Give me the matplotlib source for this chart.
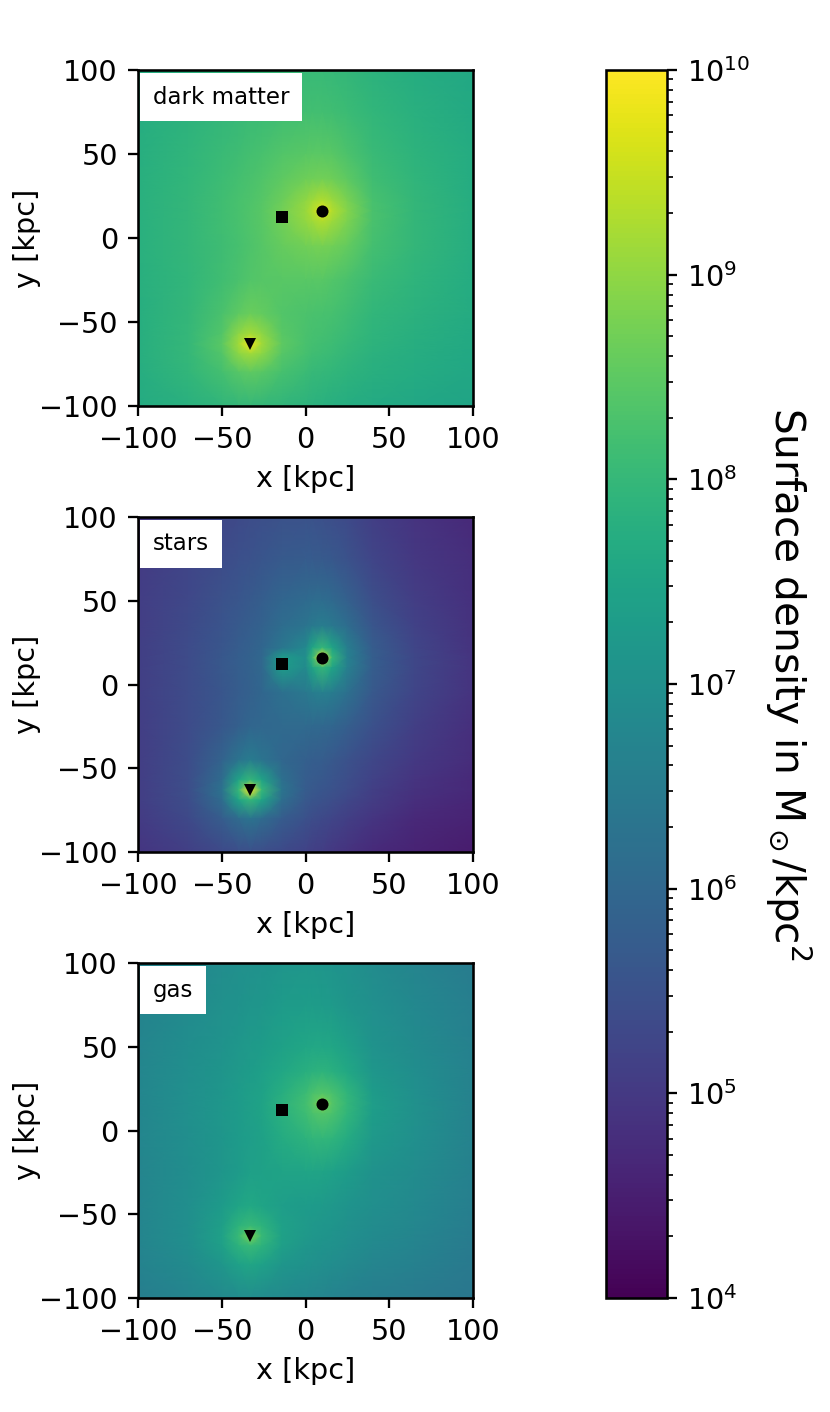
import numpy as np
import matplotlib
matplotlib.use('Agg')
import matplotlib.pyplot as plt
from matplotlib.colors import LogNorm
from matplotlib.cm import ScalarMappable

# grid nodes in kpc, denser around the halo centres
x_nodes = [-100, -70, -50, -40, -33, -26, -14, 0, 4, 10, 16, 25, 40, 65, 100]
y_nodes = [100, 75, 50, 35, 22, 16, 10, -5, -25, -45, -57, -63, -69, -80, -100]

# log10 surface density, top row is y = 100
dm_log = [
    [7.70, 7.80, 7.88, 7.93, 7.96, 7.98, 8.03, 8.05, 8.05, 8.04, 8.02, 7.97, 7.85, 7.72, 7.60],
    [7.73, 7.86, 7.97, 8.02, 8.06, 8.09, 8.16, 8.19, 8.19, 8.18, 8.15, 8.08, 7.94, 7.80, 7.63],
    [7.77, 7.93, 8.06, 8.14, 8.20, 8.25, 8.37, 8.45, 8.47, 8.47, 8.43, 8.31, 8.07, 7.88, 7.68],
    [7.79, 7.96, 8.11, 8.20, 8.27, 8.34, 8.50, 8.67, 8.70, 8.72, 8.68, 8.50, 8.16, 7.93, 7.70],
    [7.80, 7.98, 8.15, 8.25, 8.33, 8.41, 8.66, 9.00, 9.15, 9.32, 9.13, 8.80, 8.26, 7.97, 7.72],
    [7.80, 7.98, 8.15, 8.25, 8.34, 8.43, 8.72, 9.08, 9.32, 9.80, 9.32, 8.88, 8.28, 7.98, 7.73],
    [7.80, 7.98, 8.15, 8.25, 8.34, 8.43, 8.70, 9.02, 9.15, 9.32, 9.13, 8.82, 8.28, 7.98, 7.73],
    [7.80, 7.97, 8.14, 8.24, 8.32, 8.41, 8.58, 8.70, 8.72, 8.75, 8.70, 8.55, 8.20, 7.97, 7.73],
    [7.78, 7.96, 8.16, 8.28, 8.36, 8.42, 8.44, 8.44, 8.44, 8.43, 8.38, 8.28, 8.06, 7.90, 7.70],
    [7.77, 7.98, 8.28, 8.52, 8.62, 8.55, 8.38, 8.30, 8.28, 8.26, 8.22, 8.13, 7.96, 7.83, 7.66],
    [7.76, 8.00, 8.38, 8.98, 9.18, 8.98, 8.45, 8.28, 8.24, 8.20, 8.16, 8.07, 7.90, 7.79, 7.63],
    [7.76, 8.00, 8.46, 9.15, 9.85, 9.15, 8.52, 8.26, 8.21, 8.16, 8.12, 8.02, 7.87, 7.76, 7.61],
    [7.75, 7.99, 8.36, 8.95, 9.15, 8.95, 8.42, 8.22, 8.17, 8.12, 8.07, 7.98, 7.84, 7.73, 7.60],
    [7.73, 7.94, 8.20, 8.42, 8.52, 8.45, 8.22, 8.08, 8.03, 8.00, 7.96, 7.89, 7.78, 7.68, 7.57],
    [7.66, 7.80, 7.92, 7.97, 7.99, 7.98, 7.92, 7.86, 7.83, 7.80, 7.77, 7.72, 7.64, 7.58, 7.50],
]
stars_log = [
    [4.95, 5.15, 5.28, 5.35, 5.40, 5.44, 5.50, 5.52, 5.50, 5.46, 5.42, 5.34, 5.12, 4.90, 4.70],
    [5.05, 5.22, 5.38, 5.46, 5.52, 5.58, 5.68, 5.72, 5.71, 5.68, 5.63, 5.50, 5.22, 4.98, 4.78],
    [5.08, 5.30, 5.50, 5.60, 5.68, 5.76, 5.96, 6.08, 6.12, 6.12, 6.04, 5.85, 5.44, 5.10, 4.84],
    [5.10, 5.34, 5.56, 5.68, 5.76, 5.86, 6.12, 6.30, 6.42, 6.52, 6.40, 6.12, 5.60, 5.18, 4.86],
    [5.12, 5.36, 5.60, 5.74, 5.84, 5.95, 6.35, 6.80, 7.50, 8.00, 7.50, 6.55, 5.74, 5.25, 4.88],
    [5.12, 5.36, 5.62, 5.76, 5.86, 6.00, 7.30, 6.95, 8.00, 10.00, 8.00, 6.62, 5.78, 5.28, 4.90],
    [5.12, 5.36, 5.62, 5.76, 5.86, 6.00, 7.30, 6.85, 7.50, 8.00, 7.50, 6.58, 5.78, 5.28, 4.90],
    [5.12, 5.36, 5.60, 5.74, 5.84, 5.96, 6.20, 6.40, 6.52, 6.60, 6.50, 6.20, 5.66, 5.22, 4.88],
    [5.10, 5.36, 5.64, 5.82, 5.95, 6.00, 6.05, 6.04, 6.02, 6.00, 5.95, 5.80, 5.48, 5.12, 4.82],
    [5.10, 5.40, 5.88, 6.30, 6.50, 6.30, 5.98, 5.82, 5.78, 5.74, 5.66, 5.52, 5.28, 5.00, 4.75],
    [5.10, 5.42, 6.10, 7.50, 8.00, 7.50, 6.20, 5.75, 5.70, 5.64, 5.56, 5.42, 5.18, 4.90, 4.70],
    [5.10, 5.42, 6.25, 8.00, 10.00, 8.00, 6.30, 5.72, 5.65, 5.58, 5.50, 5.36, 5.12, 4.85, 4.68],
    [5.10, 5.40, 6.10, 7.50, 8.00, 7.50, 6.15, 5.65, 5.58, 5.50, 5.42, 5.28, 5.06, 4.80, 4.65],
    [5.05, 5.32, 5.75, 6.10, 6.30, 6.10, 5.72, 5.48, 5.40, 5.32, 5.24, 5.12, 4.92, 4.70, 4.58],
    [4.92, 5.12, 5.32, 5.42, 5.46, 5.42, 5.32, 5.18, 5.12, 5.06, 4.98, 4.88, 4.72, 4.58, 4.45],
]
gas_log = [
    [6.65, 6.80, 6.92, 6.98, 7.02, 7.05, 7.12, 7.15, 7.15, 7.13, 7.10, 7.04, 6.90, 6.72, 6.50],
    [6.69, 6.86, 7.00, 7.07, 7.12, 7.16, 7.26, 7.30, 7.30, 7.28, 7.24, 7.14, 6.98, 6.80, 6.56],
    [6.74, 6.93, 7.09, 7.17, 7.24, 7.30, 7.44, 7.56, 7.58, 7.58, 7.54, 7.38, 7.08, 6.88, 6.62],
    [6.75, 6.96, 7.13, 7.22, 7.30, 7.38, 7.58, 7.78, 7.84, 7.88, 7.82, 7.60, 7.18, 6.93, 6.64],
    [6.76, 6.98, 7.16, 7.27, 7.36, 7.45, 7.76, 8.10, 8.28, 8.40, 8.28, 7.92, 7.30, 6.98, 6.66],
    [6.76, 6.98, 7.17, 7.28, 7.37, 7.47, 7.84, 8.18, 8.40, 8.90, 8.40, 7.98, 7.34, 7.00, 6.67],
    [6.76, 6.98, 7.17, 7.28, 7.37, 7.47, 7.82, 8.12, 8.28, 8.40, 8.28, 7.92, 7.32, 7.00, 6.67],
    [6.75, 6.96, 7.15, 7.26, 7.35, 7.44, 7.66, 7.86, 7.92, 7.96, 7.90, 7.66, 7.22, 6.98, 6.66],
    [6.74, 6.95, 7.16, 7.28, 7.38, 7.43, 7.48, 7.50, 7.50, 7.48, 7.42, 7.30, 7.06, 6.90, 6.62],
    [6.73, 6.96, 7.26, 7.50, 7.60, 7.50, 7.34, 7.28, 7.26, 7.24, 7.20, 7.10, 6.96, 6.82, 6.57],
    [6.72, 6.97, 7.36, 7.88, 8.05, 7.88, 7.40, 7.24, 7.20, 7.16, 7.12, 7.02, 6.90, 6.77, 6.52],
    [6.72, 6.97, 7.42, 8.05, 8.80, 8.05, 7.44, 7.22, 7.17, 7.12, 7.08, 6.98, 6.86, 6.74, 6.50],
    [6.71, 6.95, 7.36, 7.85, 8.05, 7.85, 7.36, 7.16, 7.12, 7.08, 7.04, 6.94, 6.82, 6.70, 6.48],
    [6.68, 6.88, 7.16, 7.40, 7.52, 7.40, 7.16, 7.03, 7.00, 6.96, 6.92, 6.84, 6.74, 6.62, 6.44],
    [6.55, 6.72, 6.85, 6.90, 6.92, 6.90, 6.84, 6.78, 6.75, 6.72, 6.68, 6.62, 6.54, 6.47, 6.38],
]

panel_names = ['dark matter', 'stars', 'gas']
panel_grids = [dm_log, stars_log, gas_log]

# halo centres
halo_x = [10, -14, -33]
halo_y = [16, 12.5, -63]
halo_markers = ['o', 's', 'v']

W, H = 830, 1412
plt.rcParams['axes.linewidth'] = 0.9
fig = plt.figure(figsize=(W / 206, H / 206), dpi=206)
norm = LogNorm(vmin=1e4, vmax=1e10)

# panel top / bottom in pixels
panel_px = [(70, 406), (517, 852), (963, 1298)]

for name, grid, (top, bottom) in zip(panel_names, panel_grids, panel_px):
    ax = fig.add_axes([138 / W, 1 - bottom / H, 335 / W, (bottom - top) / H])
    ax.pcolormesh(x_nodes, y_nodes, 10 ** np.array(grid), norm=norm, cmap='viridis',
                  shading='gouraud', rasterized=True)
    for hx, hy, m in zip(halo_x, halo_y, halo_markers):
        ax.plot(hx, hy, m, color='k', ms=4.2, mew=0)
    ax.set_xlim(-100, 100)
    ax.set_ylim(-100, 100)
    ax.set_xticks([-100, -50, 0, 50, 100])
    ax.set_yticks([-100, -50, 0, 50, 100])
    ax.set_xlabel('x [kpc]')
    ax.set_ylabel('y [kpc]', labelpad=-0.7)
    ax.text(-91, 80, name, fontsize=8,
            bbox=dict(facecolor='white', edgecolor='none', pad=4.4))

cax = fig.add_axes([606 / W, 1 - 1298 / H, 61 / W, 1228 / H])
sm = ScalarMappable(norm=norm, cmap='viridis')
cb = fig.colorbar(sm, cax=cax)
cb.set_label(r'Surface density in M$_\odot$/kpc$^2$', fontsize=14.2, rotation=270, labelpad=22)

fig.savefig('out.png', dpi=206)
